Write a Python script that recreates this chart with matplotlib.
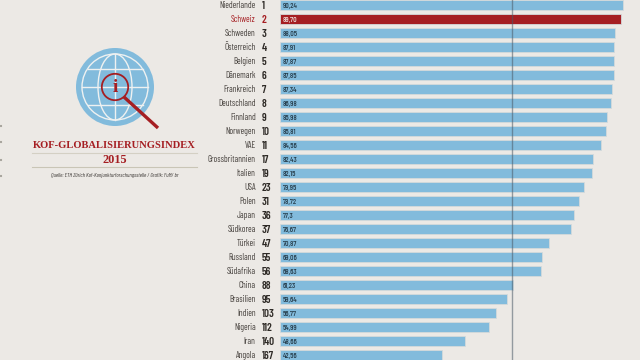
import matplotlib
matplotlib.use('Agg')
import matplotlib.pyplot as plt
from matplotlib.patches import Circle, Ellipse

# Data
countries = ['Niederlande', 'Schweiz', 'Schweden', 'Österreich', 'Belgien', 'Dänemark', 'Frankreich',
             'Deutschland', 'Finnland', 'Norwegen', 'VAE', 'Grossbritannien', 'Italien', 'USA', 'Polen',
             'Japan', 'Südkorea', 'Türkei', 'Russland', 'Südafrika', 'China', 'Brasilien', 'Indien',
             'Nigeria', 'Iran', 'Angola']
ranks = [1, 2, 3, 4, 5, 6, 7, 8, 9, 10, 11, 17, 19, 23, 31, 36, 37, 47, 55, 56, 88, 95, 103, 112, 140, 167]
values = [90.24, 89.70, 88.05, 87.91, 87.87, 87.85, 87.34, 86.98, 85.98, 85.81, 84.56, 82.43, 82.15,
          79.95, 78.72, 77.3, 76.67, 70.87, 69.06, 68.63, 61.23, 59.64, 56.77, 54.99, 48.66, 42.56]
value_labels = ['90,24', '89,70', '88,05', '87,91', '87,87', '87,85', '87,34', '86,98', '85,98', '85,81',
                '84,56', '82,43', '82,15', '79,95', '78,72', '77,3', '76,67', '70,87', '69,06', '68,63',
                '61,23', '59,64', '56,77', '54,99', '48,66', '42,56']
highlight = 'Schweiz'
mean_line = 61.05

bg = '#ece9e5'
blue = '#82bbdc'
red = '#a51e22'
dark = '#2e2a26'
white = '#eef1f1'
narrow = ['Barlow Condensed', 'Asap Condensed', 'Archivo Narrow', 'Liberation Sans', 'DejaVu Sans']

fig = plt.figure(figsize=(6.4, 3.6), dpi=100, facecolor=bg)

# Pixel axes for the logo and the title block
deco = fig.add_axes([0, 0, 1, 1])
deco.set_xlim(0, 640)
deco.set_ylim(360, 0)
deco.axis('off')

# Bars
ax = fig.add_axes([280 / 640, 0, 360 / 640, 1])
ax.patch.set_alpha(0)
ax.set_xlim(0, 360 / 3.8)
ax.set_ylim(355 / 14, -5 / 14)
ax.axis('off')

for i, name in enumerate(countries):
    hi = name == highlight
    ax.barh(i, values[i], height=0.72, color=red if hi else blue, edgecolor='#d5dadb', linewidth=0.6)
    ax.text(0.8, i + 0.04, value_labels[i], fontsize=5.6, family=narrow, fontweight=500,
            va='center_baseline', ha='left', color='#f0e4e0' if hi else '#243a48')
    ax.text(-6.4, i, name, fontsize=6.4, family=narrow, va='center_baseline', ha='right',
            color=red if hi else '#45403c', clip_on=False)
    ax.text(-4.8, i, str(ranks[i]), fontsize=8, family=narrow, fontweight=600, va='center_baseline',
            ha='left', color=red if hi else dark, clip_on=False)

ax.axvline(mean_line, color='#4a5a66', alpha=0.55, linewidth=1)

# Globe
cx, cy = 115, 87
deco.add_patch(Circle((cx, cy), 39, color=blue, lw=0))
deco.add_patch(Circle((cx, cy), 33, fill=False, ec=white, lw=1.0))
deco.add_patch(Ellipse((cx, cy), 34, 66, fill=False, ec=white, lw=1.0))
deco.plot([cx, cx], [cy - 33, cy + 33], color=white, lw=1.0)
deco.plot([cx - 33, cx + 33], [cy, cy], color=white, lw=1.0)
deco.plot([cx - 27.5, cx + 27.5], [cy - 18, cy - 18], color=white, lw=1.0)
deco.plot([cx - 27.5, cx + 27.5], [cy + 18, cy + 18], color=white, lw=1.0)

# Magnifier
deco.plot([124, 158], [97, 128], color=red, lw=2.4, solid_capstyle='butt')
deco.add_patch(Circle((cx, cy), 13.2, fill=False, ec=red, lw=1.3, zorder=3))
deco.text(cx, cy + 0.5, 'i', fontsize=14, family='Liberation Serif', fontweight='bold', color=red,
          ha='center', va='center', zorder=4)

# Title block
deco.text(114.5, 146, 'KOF-GLOBALISIERUNGSINDEX', fontsize=7.6, family='Liberation Serif',
          fontweight='bold', color=red, ha='center', va='center')
deco.plot([32, 197], [152.5, 152.5], color='#d4d0c4', lw=0.8)
deco.text(114.5, 160, '2015', fontsize=8.8, family='Liberation Serif', fontweight='bold',
          color=red, ha='center', va='center')
deco.plot([32, 197], [167, 167], color='#c9c5b6', lw=0.8)
deco.text(114.5, 175.5, 'Quelle: ETH Zürich Kof-Konjunkturforschungsstelle / Grafik: FuM/ br',
          fontsize=4.1, family=narrow, style='italic', color='#3a3633', ha='center', va='center')

# Small marks on the left edge
for y in (126, 142, 160, 176):
    deco.plot([0, 1.2], [y, y], color='#a9a69f', lw=1.5)

fig.savefig('out.png', dpi=100, facecolor=bg)
